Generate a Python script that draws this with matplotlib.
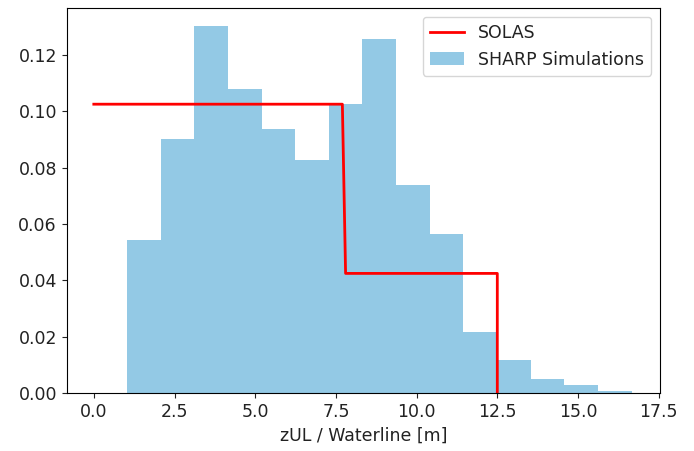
import numpy as np
import matplotlib
matplotlib.use("Agg")
import matplotlib.pyplot as plt

# Histogram bin edges (m) and densities
bin_edges = [1.03, 2.07, 3.11, 4.16, 5.20, 6.24, 7.28, 8.32, 9.37, 10.41,
             11.45, 12.49, 13.54, 14.58, 15.62, 16.66]
densities = [0.0544, 0.0901, 0.1302, 0.1079, 0.0938, 0.0826, 0.1026, 0.1255,
             0.0738, 0.0565, 0.0216, 0.0118, 0.0052, 0.0029, 0.0009]

# SOLAS step curve
solas_x = [0.0, 7.70, 7.80, 12.5, 12.5]
solas_y = [0.1025, 0.1025, 0.0425, 0.0425, 0.0]

plt.rcParams['font.family'] = ['DejaVu Sans']
plt.rcParams['font.size'] = 12.5
plt.rcParams['text.color'] = '#222222'
plt.rcParams['xtick.color'] = '#222222'
plt.rcParams['ytick.color'] = '#222222'
plt.rcParams['axes.labelcolor'] = '#222222'

fig = plt.figure(figsize=(6.94, 4.51), dpi=100)
ax = fig.add_axes([0.0961, 0.128, 0.951 - 0.0961, 0.9816 - 0.128])

edges = np.array(bin_edges)
ax.bar(edges[:-1], densities, width=np.diff(edges), align='edge',
       color='#93C9E5', edgecolor='none', linewidth=0, label='SHARP Simulations', zorder=1)
ax.plot(solas_x, solas_y, color='red', linewidth=2, label='SOLAS', zorder=2)

ax.set_xlim(-0.84, 17.54)
ax.set_ylim(0, 0.1365)
ax.set_xticks(np.arange(0, 17.6, 2.5))
ax.set_yticks(np.arange(0, 0.121, 0.02))
ax.set_xlabel('zUL / Waterline [m]')

handles, labels = ax.get_legend_handles_labels()
order = [labels.index('SOLAS'), labels.index('SHARP Simulations')]
ax.legend([handles[i] for i in order], [labels[i] for i in order], loc='upper right')

fig.savefig('out.png', dpi=100)
